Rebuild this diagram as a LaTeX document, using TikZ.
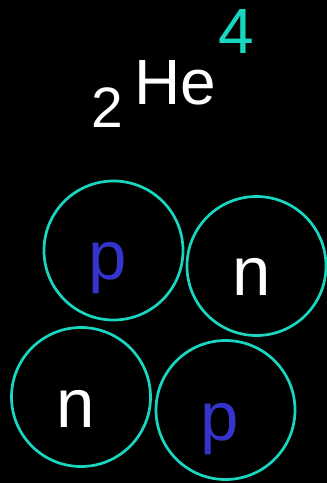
\documentclass[tikz,border=0pt]{standalone}
\usepackage{fontspec}
\setmainfont{Liberation Sans}
\definecolor{tq}{RGB}{25,214,192}
\definecolor{pblue}{RGB}{52,52,204}
\tikzset{
  particle/.style={circle, draw=tq, line width=2.7pt, minimum size=139pt, inner sep=0pt},
  ltr/.style={inner sep=0pt, anchor=base, font=\fontsize{69}{69}\selectfont},
}
\begin{document}
\begin{tikzpicture}[x=1pt,y=-1pt]
\fill[black] (0,0) rectangle (327,483);
\useasboundingbox (0,0) rectangle (327,483);
\node[particle] (p1) at (113.5,250.5) {};
\node[particle] (n1) at (256.5,266) {};
\node[particle] (n2) at (81,397) {};
\node[particle] (p2) at (225.5,410) {};
\node[ltr, text=pblue] (tp1) at (107.5,279) {p};
\node[ltr, text=pblue] (tp2) at (219.5,440) {p};
\node[ltr, text=white] (tn1) at (251.5,295) {n};
\node[ltr, text=white] (tn2) at (75.5,427) {n};
\node[inner sep=0pt, anchor=base, text=white, font=\fontsize{64}{64}\selectfont] (he) at (175.5,104) {He};
\node[inner sep=0pt, anchor=base, text=white, font=\fontsize{57}{57}\selectfont] (z) at (107,127) {2};
\node[inner sep=0pt, anchor=base, text=tq, font=\fontsize{64}{64}\selectfont] (a) at (236.5,53) {4};
\end{tikzpicture}
\end{document}
